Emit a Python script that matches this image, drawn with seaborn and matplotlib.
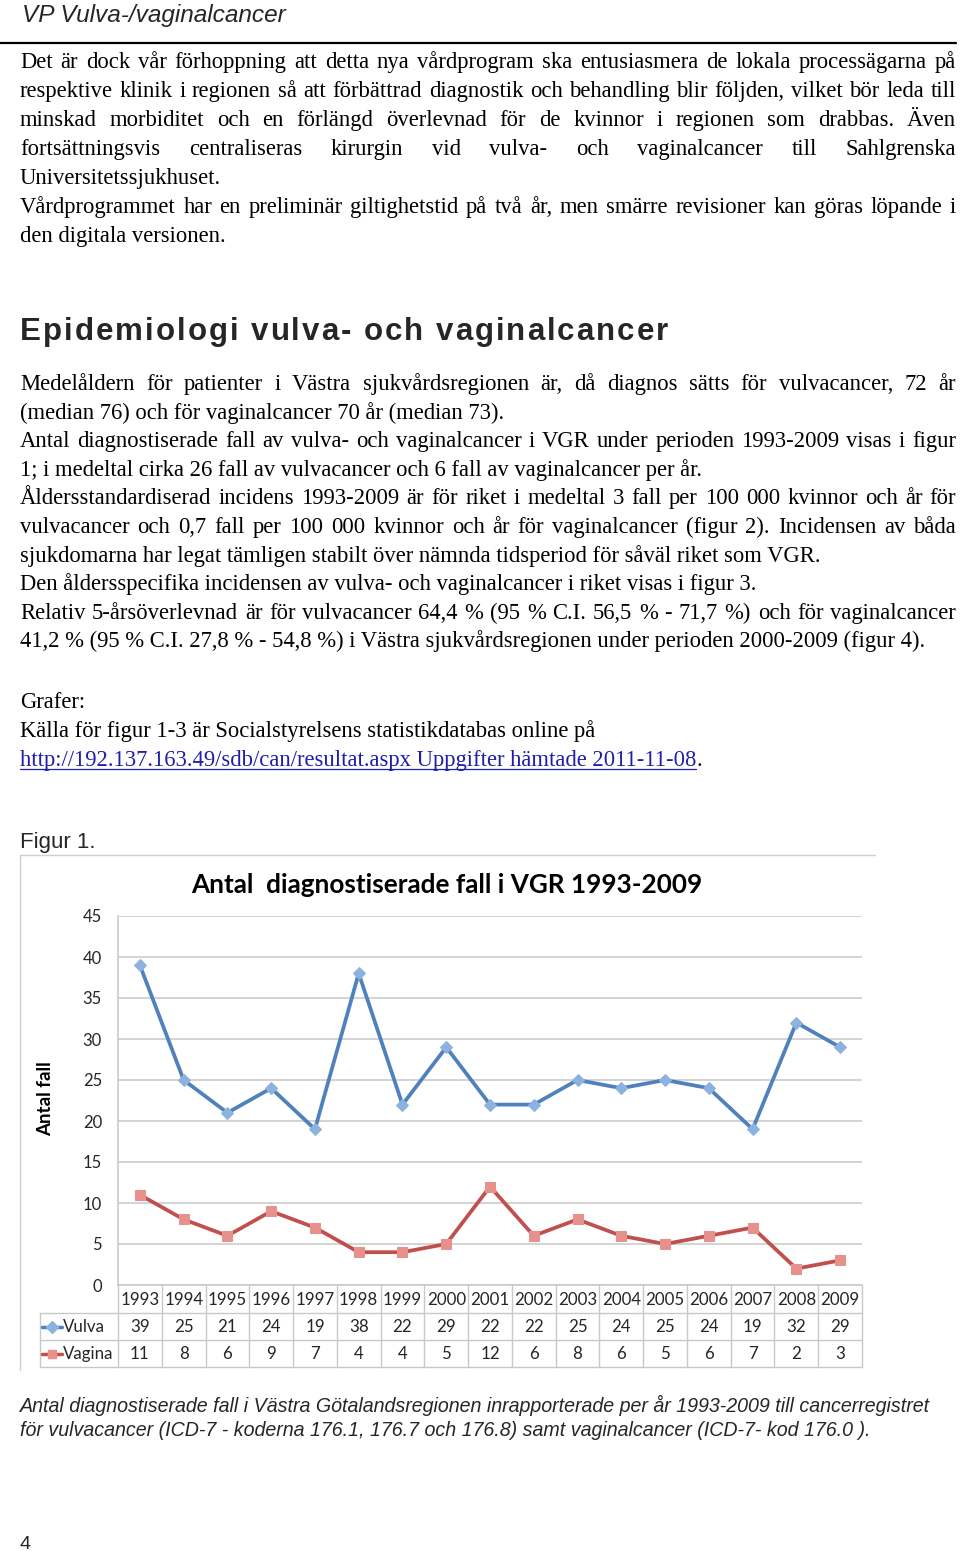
import matplotlib
matplotlib.use("Agg")
import matplotlib.pyplot as plt
import matplotlib.transforms as mtransforms
import pandas as pd
import seaborn as sns

# chart data
years = [1993, 1994, 1995, 1996, 1997, 1998, 1999, 2000, 2001,
         2002, 2003, 2004, 2005, 2006, 2007, 2008, 2009]
vulva = [39, 25, 21, 24, 19, 38, 22, 29, 22, 22, 25, 24, 25, 24, 19, 32, 29]
vagina = [11, 8, 6, 9, 7, 4, 4, 5, 12, 6, 8, 6, 5, 6, 7, 2, 3]
yticks = [0, 5, 10, 15, 20, 25, 30, 35, 40, 45]

header = "VP Vulva-/vaginalcancer"
para1 = [
    ("Det är dock vår förhoppning att detta nya vårdprogram ska entusiasmera de lokala processägarna på", True),
    ("respektive klinik i regionen så att förbättrad diagnostik och behandling blir följden, vilket bör leda till", True),
    ("minskad morbiditet och en förlängd överlevnad för de kvinnor i regionen som drabbas. Även", True),
    ("fortsättningsvis centraliseras kirurgin vid vulva- och vaginalcancer till Sahlgrenska", True),
    ("Universitetssjukhuset.", False),
    ("Vårdprogrammet har en preliminär giltighetstid på två år, men smärre revisioner kan göras löpande i", True),
    ("den digitala versionen.", False),
]
heading = "Epidemiologi vulva- och vaginalcancer"
para2 = [
    ("Medelåldern för patienter i Västra sjukvårdsregionen är, då diagnos sätts för vulvacancer, 72 år", True),
    ("(median 76) och för vaginalcancer 70 år (median 73).", False),
    ("Antal diagnostiserade fall av vulva- och vaginalcancer i VGR under perioden 1993-2009 visas i figur", True),
    ("1; i medeltal cirka 26 fall av vulvacancer och 6 fall av vaginalcancer per år.", False),
    ("Åldersstandardiserad incidens 1993-2009 är för riket i medeltal 3 fall per 100 000 kvinnor och år för", True),
    ("vulvacancer och 0,7 fall per 100 000 kvinnor och år för vaginalcancer (figur 2). Incidensen av båda", True),
    ("sjukdomarna har legat tämligen stabilt över nämnda tidsperiod för såväl riket som VGR.", False),
    ("Den åldersspecifika incidensen av vulva- och vaginalcancer i riket visas i figur 3.", False),
    ("Relativ 5-årsöverlevnad är för vulvacancer 64,4 % (95 % C.I. 56,5 % - 71,7 %) och för vaginalcancer", True),
    ("41,2 % (95 % C.I. 27,8 % - 54,8 %) i Västra sjukvårdsregionen under perioden 2000-2009 (figur 4).", False),
]
grafer = ["Grafer:", "Källa för figur 1-3 är Socialstyrelsens statistikdatabas online på"]
link = "http://192.137.163.49/sdb/can/resultat.aspx Uppgifter hämtade 2011-11-08"
caption = [
    "Antal diagnostiserade fall i Västra Götalandsregionen inrapporterade per år 1993-2009 till cancerregistret",
    "för vulvacancer (ICD-7 - koderna 176.1, 176.7 och 176.8) samt vaginalcancer (ICD-7- kod 176.0 ).",
]
chart_title = "Antal  diagnostiserade fall i VGR 1993-2009"

blue, blue_mk = "#4F81BD", "#8CB2E0"
red, red_mk = "#C0504D", "#E8908C"
grid_c = "#C8C8C8"
tab_c = "#262626"

W, H = 960, 1551
sns.set_theme(style="white")
plt.rcParams["font.family"] = ["Lato", "DejaVu Sans"]

fig = plt.figure(figsize=(W / 100, H / 100), dpi=100)
page = fig.add_axes([0, 0, 1, 1])
page.set_xlim(0, W)
page.set_ylim(H, 0)
page.axis("off")
renderer = fig.canvas.get_renderer()

serif = dict(family=["Liberation Serif", "DejaVu Serif"], fontsize=16.3, color="black")
sans = ["Liberation Sans", "DejaVu Sans"]


def width_of(s, **kw):
    t = page.text(0, 0, s, **kw)
    w = t.get_window_extent(renderer).width
    t.remove()
    return w


def put_line(y, s, justify, x0=20, x1=956, **kw):
    if not justify:
        page.text(x0, y, s, va="baseline", **kw)
        return
    words = s.split(" ")
    ws = [width_of(w, **kw) for w in words]
    gap = (x1 - x0 - sum(ws)) / (len(words) - 1)
    x = x0
    for w, wd in zip(words, ws):
        page.text(x, y, w, va="baseline", **kw)
        x += wd + gap


def put_tracked(x0, x1, y, s, **kw):
    space = width_of("a a", **kw) - width_of("aa", **kw)
    ws = [space if c == " " else width_of(c, **kw) for c in s]
    extra = (x1 - x0 - sum(ws)) / (len(s) - 1)
    x = x0
    for c, wd in zip(s, ws):
        if c != " ":
            page.text(x, y, c, va="baseline", **kw)
        x += wd + extra


# page header
page.text(22, 22, header, va="baseline", family=sans, style="italic", fontsize=17.6)
page.plot([0, 956], [43, 43], color="black", lw=1.6)

for i, (s, j) in enumerate(para1):
    put_line(68 + i * 29, s, j, **serif)

put_tracked(20, 668, 340, heading, family=sans, fontweight="bold", fontsize=22.5)

for i, (s, j) in enumerate(para2):
    put_line(390 + i * 28.6, s, j, **serif)

for i, s in enumerate(grafer):
    put_line(708 + i * 29, s, False, **serif)
link_kw = dict(serif, color="#1f1fa8")
page.text(20, 766, link, va="baseline", **link_kw)
lw_ = width_of(link, **link_kw)
page.plot([20, 20 + lw_], [769, 769], color="#1f1fa8", lw=0.9)
page.text(20 + lw_, 766, ".", va="baseline", **serif)

page.text(20, 848, "Figur 1.", va="baseline", family=sans, fontsize=16)

# chart frame
page.plot([20, 875], [855, 855], color="#CFCFCF", lw=1)
page.plot([20, 20], [855, 1370], color="#CFCFCF", lw=1)
page.text(447, 893, chart_title, ha="center", va="baseline", fontweight="bold",
          fontsize=18.8, color="black")
page.text(46, 1099, "Antal fall", rotation=90, ha="center", va="center",
          fontweight="bold", fontsize=13.5, color="black")

# plot area
left, right, top, bottom = 118, 862, 916, 1285
ax = fig.add_axes([left / W, 1 - bottom / H, (right - left) / W, (bottom - top) / H])
df = pd.DataFrame({"idx": range(len(years)), "Vulva": vulva, "Vagina": vagina})
sns.lineplot(data=df, x="idx", y="Vulva", ax=ax, color=blue, lw=2.7, marker="D",
             ms=6.5, mfc=blue_mk, mec=blue_mk, zorder=3)
sns.lineplot(data=df, x="idx", y="Vagina", ax=ax, color=red, lw=2.7, marker="s",
             ms=6.5, mfc=red_mk, mec=red_mk, zorder=3)
ax.set_xlim(-0.5, len(years) - 0.5)
ax.set_ylim(0, 45)
ax.set_yticks(yticks)
ax.set_xticks([])
ax.set_xlabel("")
ax.set_ylabel("")
ax.yaxis.grid(True, color=grid_c, lw=1.1)
ax.set_axisbelow(True)
ax.tick_params(axis="y", length=0, pad=11.5, labelsize=12, labelcolor=tab_c)
for side in ["top", "right"]:
    ax.spines[side].set_visible(False)
for side in ["left", "bottom"]:
    ax.spines[side].set_color(grid_c)
    ax.spines[side].set_linewidth(1.1)
ax.patch.set_alpha(0)

# data table under the chart
trans = mtransforms.blended_transform_factory(ax.transData, page.transData)
row_y = [1285, 1313, 1340, 1367]
n = len(years)
tab_fs = 12.2
for i in range(n + 1):
    page.plot([i - 0.5, i - 0.5], [row_y[0], row_y[-1]], color=grid_c, lw=1,
              transform=trans, clip_on=False)
for y in row_y[1:]:
    page.plot([40, left], [y, y], color=grid_c, lw=1, clip_on=False)
    page.plot([-0.5, n - 0.5], [y, y], color=grid_c, lw=1, transform=trans, clip_on=False)
page.plot([40, 40], [row_y[1], row_y[-1]], color=grid_c, lw=1)
for i in range(n):
    page.text(i, 1300, str(years[i]), ha="center", va="center", fontsize=tab_fs,
              color=tab_c, transform=trans)
    page.text(i, 1327, str(vulva[i]), ha="center", va="center", fontsize=tab_fs,
              color=tab_c, transform=trans)
    page.text(i, 1354, str(vagina[i]), ha="center", va="center", fontsize=tab_fs,
              color=tab_c, transform=trans)

for y, name, col, mk, mc in [(1327, "Vulva", blue, "D", blue_mk), (1354, "Vagina", red, "s", red_mk)]:
    page.plot([42, 62], [y, y], color=col, lw=2.5)
    page.plot([52], [y], marker=mk, ms=6, color=mc, mec=mc)
    page.text(63, y, name, va="center", fontsize=tab_fs, color=tab_c)

for i, s in enumerate(caption):
    page.text(20, 1412 + i * 23.5, s, va="baseline", family=sans, style="italic", fontsize=14.1)

page.text(20, 1549, "4", va="baseline", family=sans, fontsize=14)

fig.savefig("out.png", dpi=100)
